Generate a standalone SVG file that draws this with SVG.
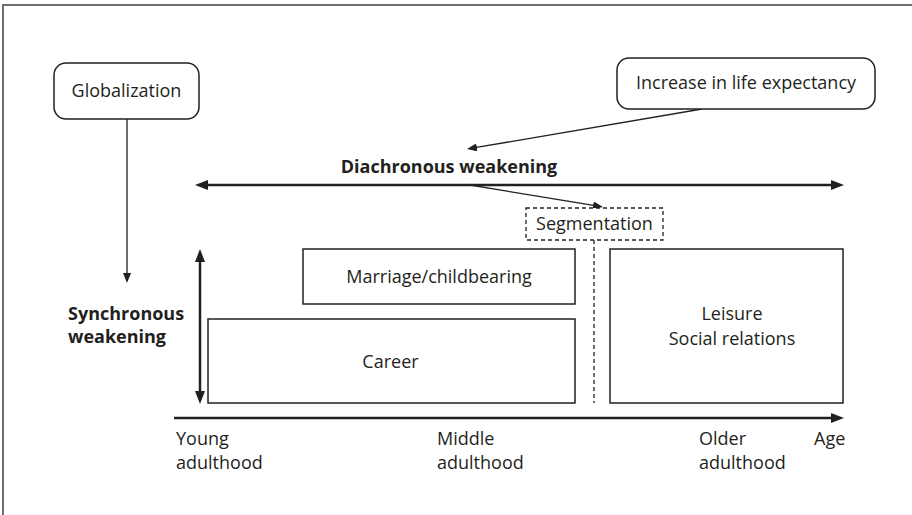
<svg xmlns="http://www.w3.org/2000/svg" width="912" height="515" viewBox="0 0 912 515">
<style>
text{font-family:"Open Sans","Liberation Sans",sans-serif;font-size:18px;fill:#231f20}
.b{font-weight:bold}
.m{text-anchor:middle}
.box{fill:#fff;stroke:#231f20;stroke-width:1.5}
.dash{fill:#fff;stroke:#231f20;stroke-width:1.3;stroke-dasharray:4 3}
.thick{stroke:#231f20;stroke-width:2.5;fill:none}
.thin{stroke:#231f20;stroke-width:1.3;fill:none}
</style>
<defs>
<marker id="ah" markerUnits="userSpaceOnUse" markerWidth="13" markerHeight="10" refX="3" refY="5" orient="auto-start-reverse"><path d="M0,0 L13,5 L0,10 z" fill="#231f20"/></marker>
<marker id="as" markerUnits="userSpaceOnUse" markerWidth="10" markerHeight="8" refX="2" refY="4" orient="auto"><path d="M0,0 L10,4 L0,8 z" fill="#231f20"/></marker>
</defs>
<rect width="912" height="515" fill="#fff"/>
<g id="frame"><path d="M3,515 V5 H912" fill="none" stroke="#6d6e71" stroke-width="2"/></g>

<g id="connectors">
<line class="thin" x1="127" y1="119" x2="127" y2="275" marker-end="url(#as)"/>
<line class="thin" x1="702" y1="109" x2="474.9" y2="147.7" marker-end="url(#as)"/>
<line class="thick" x1="205" y1="185" x2="834" y2="185" marker-start="url(#ah)" marker-end="url(#ah)"/>
<line class="thin" x1="467" y1="184.5" x2="595.1" y2="205.7" marker-end="url(#as)"/>
<line class="thick" x1="200" y1="259" x2="200" y2="394" marker-start="url(#ah)" marker-end="url(#ah)"/>
<line class="thick" x1="174" y1="418" x2="834" y2="418" marker-end="url(#ah)"/>
<line x1="594" y1="240" x2="594" y2="403" stroke="#231f20" stroke-width="1.3" stroke-dasharray="4 3"/>
</g>

<g id="globalization">
<rect class="box" x="54" y="63" width="145" height="56" rx="12"/>
<text class="m" x="126.5" y="97">Globalization</text>
</g>
<g id="life-expectancy">
<rect class="box" x="617" y="58" width="258" height="51" rx="12"/>
<text class="m" x="746" y="89">Increase in life expectancy</text>
</g>
<g id="diachronous">
<text class="b m" x="449" y="173">Diachronous weakening</text>
</g>
<g id="segmentation">
<rect class="dash" x="526" y="208" width="137" height="32"/>
<text class="m" x="594.5" y="230">Segmentation</text>
</g>
<g id="synchronous">
<text class="b" x="68" y="320">Synchronous</text>
<text class="b" x="68" y="343">weakening</text>
</g>
<g id="marriage">
<rect class="box" x="303" y="249" width="272" height="55"/>
<text class="m" x="439" y="283">Marriage/childbearing</text>
</g>
<g id="career">
<rect class="box" x="208" y="319" width="367" height="84"/>
<text class="m" x="390.5" y="368">Career</text>
</g>
<g id="leisure">
<rect class="box" x="610" y="249" width="233" height="154"/>
<text class="m" x="732" y="320">Leisure</text>
<text class="m" x="732" y="345">Social relations</text>
</g>
<g id="axis-labels">
<text x="176" y="445">Young</text>
<text x="176" y="469">adulthood</text>
<text x="437" y="445">Middle</text>
<text x="437" y="469">adulthood</text>
<text x="699" y="445">Older</text>
<text x="699" y="469">adulthood</text>
<text x="814" y="445">Age</text>
</g>
</svg>
